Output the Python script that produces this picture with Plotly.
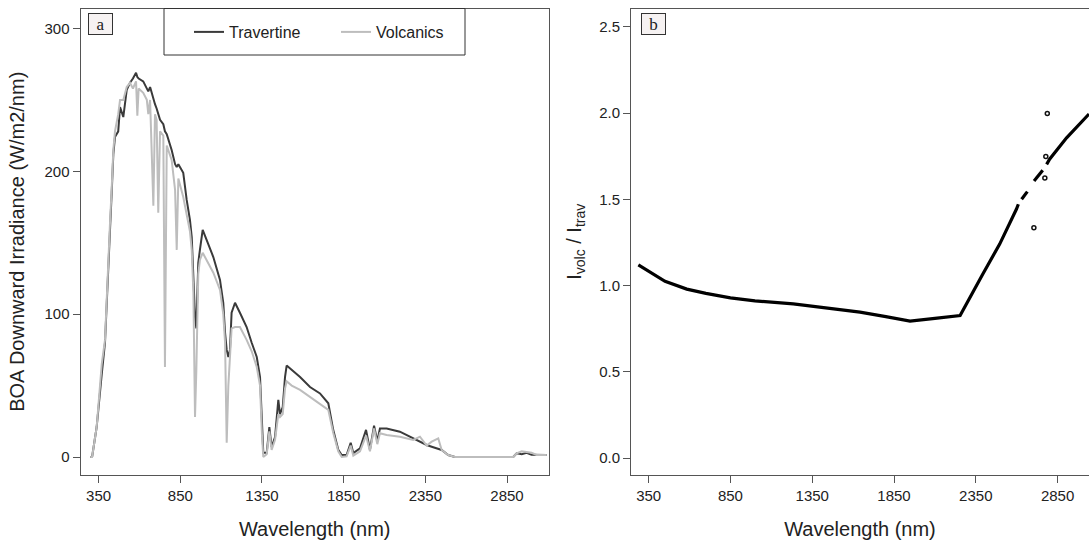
import plotly.graph_objects as go

# ---- Panel a: BOA downward irradiance spectra ----
wavelength = [300, 310, 338, 359, 369, 389, 400, 410, 420, 430, 440, 450, 470, 481, 501, 522, 542, 560,
              579, 587, 595, 623, 645, 654, 665, 685, 695, 705, 715, 726, 746, 756, 767, 797, 818, 828,
              838, 868, 889, 909, 920, 930, 940, 948, 960, 970, 987, 1011, 1052, 1093, 1113, 1124, 1134,
              1144, 1154, 1164, 1185, 1215, 1256, 1287, 1318, 1338, 1350, 1358, 1379, 1395, 1409, 1430,
              1450, 1460, 1477, 1491, 1501, 1532, 1583, 1644, 1705, 1756, 1786, 1817, 1838, 1868, 1893,
              1909, 1950, 1987, 2011, 2036, 2056, 2072, 2113, 2194, 2276, 2317, 2358, 2389, 2429, 2450,
              2490, 2531, 2888, 2909, 2940, 2970, 3000, 3031, 3092]
travertine = [0, 0, 21, 50, 58, 80, 112, 140, 160, 185, 212, 224, 228, 245, 238, 257, 262, 265,
              269, 266, 265, 263, 258, 256, 259, 250, 247, 244, 240, 236, 233, 228, 226, 215, 205, 203,
              205, 199, 180, 166, 154, 122, 98, 90, 136, 145, 159, 152, 140, 124, 108, 87, 75,
              70, 75, 101, 108, 101, 91, 80, 70, 56, 20, 3, 3, 21, 7, 14,
              40, 30, 35, 56, 64, 61, 56, 49, 44.5, 37.6, 19, 5, 1.4, 1.4, 10,
              2.8, 6, 19, 5, 22, 11, 20, 20, 17.7, 13, 11, 8.4, 7.2, 6, 4.9,
              1.4, 0, 0, 2.6, 2, 3, 1.5, 1.4, 1.4]
volcanics = [0, 0, 21, 52, 65, 82, 115, 148, 165, 188, 215, 228, 240, 250, 250, 259, 262, 258,
             263, 239, 258, 255, 250, 240, 250, 176, 240, 236, 171, 228, 225, 63, 218, 208, 187, 145,
             195, 182, 170, 158, 145, 115, 28, 60, 128, 138, 143, 138, 129, 117, 100, 80, 10,
             50, 68, 90, 91, 91, 82, 74, 63, 50, 15, 0, 2, 18, 5, 12,
             30, 28, 30, 48, 53, 50, 47, 42, 37.6, 33, 17, 4, 0, 0.5, 8,
             1, 4, 15, 4, 20, 9, 16.6, 15.4, 14.2, 11.9, 14.2, 8, 10.7, 13, 4.9,
             1.4, 0, 0, 2.6, 4, 3.7, 3, 1.4, 1.4]

# ---- Panel b: ratio I_volc / I_trav ----
ratio_wl = [287, 358, 450, 583, 700, 850, 1000, 1234, 1450, 1642, 1800, 1948, 2100, 2254,
            2393, 2496, 2598, 2610, None, 2630, 2665, None, 2706, 2759, None, 2783, 2801, 2905, 3042]
ratio_val = [1.12, 1.077, 1.025, 0.98, 0.955, 0.929, 0.912, 0.894, 0.868, 0.846, 0.82, 0.794, 0.81, 0.827,
             1.068, 1.241, 1.443, 1.472, None, 1.501, 1.545, None, 1.607, 1.669, None, 1.703, 1.733, 1.857, 1.995]
outlier_wl = [2787, 2778, 2772, 2705]
outlier_val = [1.998, 1.749, 1.624, 1.335]

xticks = [350, 850, 1350, 1850, 2350, 2850]
yticks_a = [0, 100, 200, 300]
yticks_b = [0.0, 0.5, 1.0, 1.5, 2.0, 2.5]

W, H = 1089, 548
def px_x(p):
    return p / W
def px_y(p):
    return 1 - p / H

fig = go.Figure()
fig.add_trace(go.Scatter(x=wavelength, y=travertine, mode="lines", name="Travertine",
                         line=dict(color="#3a3a3a", width=2), xaxis="x", yaxis="y"))
fig.add_trace(go.Scatter(x=wavelength, y=volcanics, mode="lines", name="Volcanics",
                         line=dict(color="#bdbdbd", width=2), xaxis="x", yaxis="y"))
fig.add_trace(go.Scatter(x=ratio_wl, y=ratio_val, mode="lines", showlegend=False,
                         line=dict(color="black", width=3.2), connectgaps=False,
                         xaxis="x2", yaxis="y2"))
fig.add_trace(go.Scatter(x=outlier_wl, y=outlier_val, mode="markers", showlegend=False,
                         marker=dict(symbol="circle-open", size=4, color="#111",
                                     line=dict(width=1.5, color="#111")),
                         xaxis="x2", yaxis="y2"))

axis_common = dict(showline=True, linecolor="#555", linewidth=1, ticks="outside", ticklen=7,
                   tickcolor="#555", tickwidth=1, showgrid=False, zeroline=False,
                   tickfont=dict(family="Liberation Sans, Arial", size=15, color="#222"))
title_font = dict(family="Liberation Sans, Arial", size=20, color="#222")

ytop, ybot = px_y(8.5), px_y(475)
label_font = dict(family="Liberation Serif, Times New Roman", size=17, color="#222")
fig.update_layout(
    width=W, height=H, margin=dict(l=0, r=0, t=0, b=0),
    paper_bgcolor="white", plot_bgcolor="white",
    xaxis=dict(domain=[px_x(80.5), px_x(549)], range=[239, 3107], tickvals=xticks,
               mirror=True, anchor="y",
               title=dict(text="Wavelength (nm)", font=title_font, standoff=18), **axis_common),
    yaxis=dict(domain=[ybot, ytop], range=[-12.6, 314], tickvals=yticks_a, mirror=True, anchor="x",
               title=dict(text="BOA Downward Irradiance (W/m2/nm)", font=title_font, standoff=14),
               **axis_common),
    xaxis2=dict(domain=[px_x(631), 1.0], range=[242, 3042], tickvals=xticks, anchor="y2",
                mirror=True,
                title=dict(text="Wavelength (nm)", font=title_font, standoff=18), **axis_common),
    yaxis2=dict(domain=[ybot, ytop], range=[-0.098, 2.607], tickvals=yticks_b, tickformat=".1f",
                anchor="x2",
                title=dict(text="I<sub>volc</sub> / I<sub>trav</sub>", font=title_font, standoff=12),
                **axis_common),
    legend=dict(orientation="h", x=px_x(189), y=px_y(32), xanchor="left", yanchor="middle",
                bgcolor="rgba(0,0,0,0)", borderwidth=0,
                font=dict(family="Liberation Sans, Arial", size=16, color="#222"),
                entrywidth=102, entrywidthmode="pixels"),
    shapes=[dict(type="rect", xref="paper", yref="paper",
                 x0=px_x(164), x1=px_x(465), y0=px_y(55), y1=ytop,
                 line=dict(color="#333", width=1), fillcolor="white", layer="above")],
    annotations=[
        dict(text="a", xref="paper", yref="paper", x=px_x(88), y=px_y(13), xanchor="left", yanchor="top",
             showarrow=False, font=label_font, width=21, height=18, align="center",
             bordercolor="#333", borderwidth=1, borderpad=1, bgcolor="#f6f2f2"),
        dict(text="b", xref="paper", yref="paper", x=px_x(641), y=px_y(13), xanchor="left", yanchor="top",
             showarrow=False, font=label_font, width=21, height=18, align="center",
             bordercolor="#333", borderwidth=1, borderpad=1, bgcolor="#f6f2f2"),
    ],
)

fig.write_html("out.html")
